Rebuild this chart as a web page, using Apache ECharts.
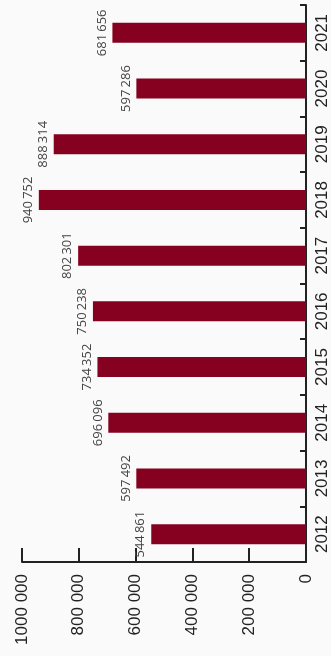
<!DOCTYPE html>
<html>
<head>
<meta charset="utf-8">
<script src="https://cdn.jsdelivr.net/npm/echarts@6/dist/echarts.min.js"></script>
<style>
  html, body { margin: 0; padding: 0; background: #fafafa; }
  #chart { width: 331px; height: 656px; }
</style>
</head>
<body>
<div id="chart"></div>
<script>
// years, bottom to top
var years = ['2012', '2013', '2014', '2015', '2016', '2017', '2018', '2019', '2020', '2021'];
var values = [544861, 597492, 696096, 734352, 750238, 802301, 940752, 888314, 597286, 681656];
var valueTicks = [0, 200000, 400000, 600000, 800000, 1000000];

function thin(v) {
  // 681656 -> "681 656"
  var s = String(v);
  if (s.length <= 3) return s;
  return s.slice(0, s.length - 3) + '\u2009' + s.slice(s.length - 3);
}
function axisFmt(v) {
  var s = String(v);
  if (s.length <= 3) return s;
  return s.slice(0, s.length - 3) + ' ' + s.slice(s.length - 3);
}

var chart = echarts.init(document.getElementById('chart'));
chart.setOption({
  backgroundColor: '#fafafa',
  animation: false,
  grid: { left: 22, right: 25, top: 5, bottom: 94 },
  xAxis: {
    type: 'value',
    inverse: true,
    min: valueTicks[0],
    max: valueTicks[valueTicks.length - 1],
    interval: 200000,
    axisLine: { show: true, lineStyle: { color: '#222', width: 2 } },
    axisTick: { show: true, inside: true, length: 14, lineStyle: { color: '#222', width: 2 } },
    splitLine: { show: false },
    axisLabel: {
      rotate: 90,
      margin: 12,
      color: '#222',
      fontSize: 17,
      fontFamily: 'Liberation Sans, Arial, sans-serif',
      formatter: axisFmt
    }
  },
  yAxis: {
    type: 'category',
    position: 'right',
    data: years,
    axisLine: { show: true, lineStyle: { color: '#222', width: 2 } },
    axisTick: { show: true, inside: true, length: 6, lineStyle: { color: '#222', width: 2 } },
    axisLabel: {
      rotate: 90,
      margin: 8,
      color: '#222',
      fontSize: 17,
      fontFamily: 'Liberation Sans, Arial, sans-serif'
    }
  },
  series: [{
    type: 'bar',
    data: values,
    barWidth: 20,
    itemStyle: { color: '#86001f' },
    label: {
      show: true,
      position: 'left',
      rotate: 90,
      align: 'center',
      verticalAlign: 'bottom',
      distance: 4,
      color: '#444',
      fontSize: 13,
      fontFamily: 'Open Sans, sans-serif',
      formatter: function (p) { return thin(p.value); }
    }
  }]
});
</script>
</body>
</html>
